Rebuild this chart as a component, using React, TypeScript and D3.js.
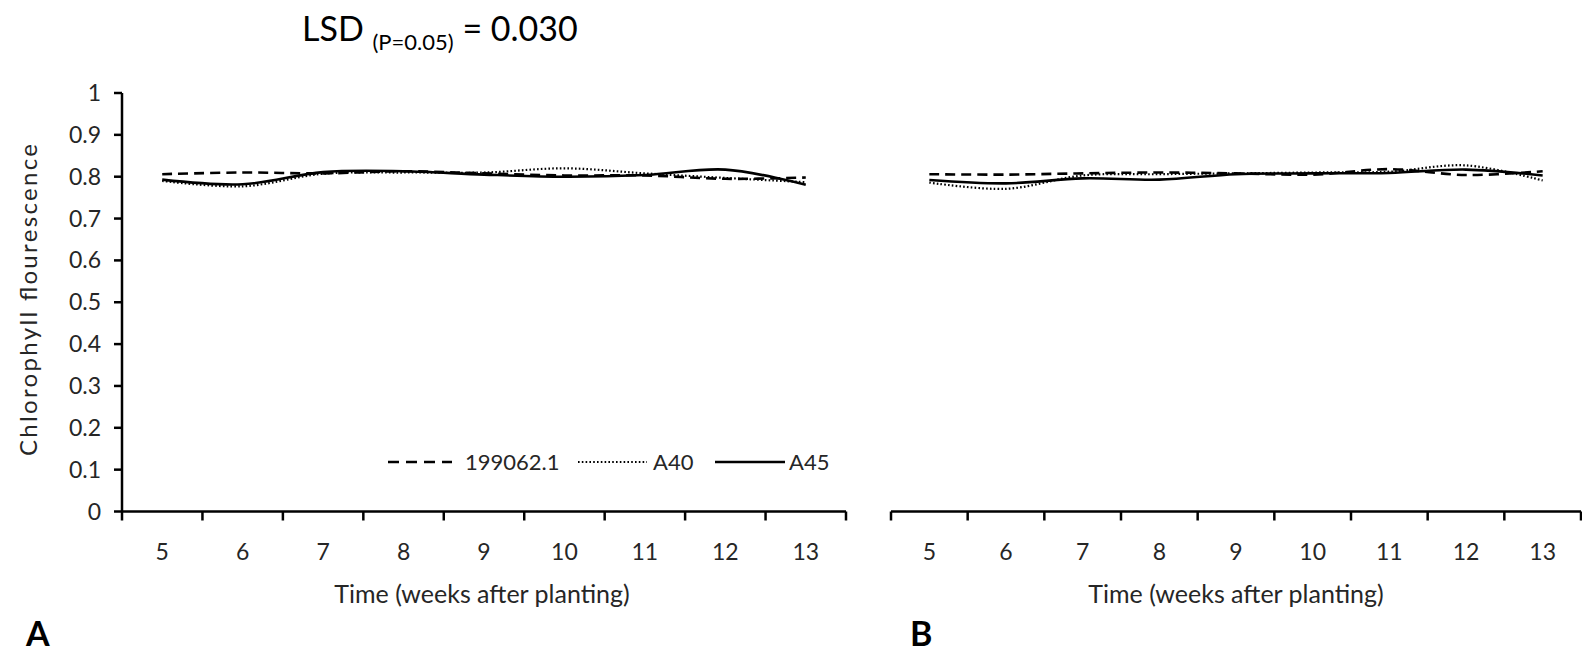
import React, { useRef, useEffect } from "react";
import * as d3 from "d3";

const weeks = ["5", "6", "7", "8", "9", "10", "11", "12", "13"];
const yTicks = [0, 0.1, 0.2, 0.3, 0.4, 0.5, 0.6, 0.7, 0.8, 0.9, 1];

// panel A
const a199062 = [0.806, 0.81, 0.808, 0.813, 0.808, 0.803, 0.803, 0.795, 0.798];
const aA40 = [0.79, 0.777, 0.807, 0.81, 0.81, 0.82, 0.808, 0.797, 0.787];
const aA45 = [0.793, 0.782, 0.811, 0.813, 0.805, 0.8, 0.804, 0.817, 0.781];

// panel B
const b199062 = [0.806, 0.805, 0.808, 0.81, 0.808, 0.805, 0.818, 0.804, 0.813];
const bA40 = [0.786, 0.771, 0.803, 0.806, 0.808, 0.81, 0.812, 0.827, 0.791];
const bA45 = [0.792, 0.784, 0.796, 0.793, 0.806, 0.808, 0.809, 0.817, 0.803];

const seriesNames = ["199062.1", "A40", "A45"];
const dashes = ["10 6", "1.6 2.2", null];
const widths = [2.6, 2.2, 2.6];

const FONT = "Lato, 'Open Sans', sans-serif";
const TXT = "#262626";

export default function App() {
  const ref = useRef<SVGSVGElement>(null);

  useEffect(() => {
    const svg = d3.select(ref.current);
    svg.selectAll("*").remove();

    const y = d3.scaleLinear().domain([0, 1]).range([511.5, 93]);

    const panels = [
      { x0: 122, x1: 846, data: [a199062, aA40, aA45], yAxis: true, letter: "A", lx: 26 },
      { x0: 891, x1: 1581, data: [b199062, bA40, bA45], yAxis: false, letter: "B", lx: 910 }
    ];

    panels.forEach(p => {
      const x = d3.scaleBand().domain(weeks).range([p.x0, p.x1]);
      const g = svg.append("g");

      // lines
      p.data.forEach((vals, i) => {
        const line = d3
          .line<number>()
          .x((d, j) => (x(weeks[j]) as number) + x.bandwidth() / 2)
          .y(d => y(d))
          .curve(d3.curveCatmullRom.alpha(0.5));
        g.append("path")
          .attr("d", line(vals))
          .attr("fill", "none")
          .attr("stroke", "#000")
          .attr("stroke-width", widths[i])
          .attr("stroke-dasharray", dashes[i]);
      });

      // x axis
      g.append("line")
        .attr("x1", p.x0)
        .attr("x2", p.x1)
        .attr("y1", y(0))
        .attr("y2", y(0))
        .attr("stroke", "#000")
        .attr("stroke-width", 2.5);
      const bounds = weeks.map(w => x(w) as number).concat([p.x1]);
      g.selectAll(".xt")
        .data(bounds)
        .enter()
        .append("line")
        .attr("x1", d => d)
        .attr("x2", d => d)
        .attr("y1", y(0))
        .attr("y2", y(0) + 9)
        .attr("stroke", "#000")
        .attr("stroke-width", 2.5);
      g.selectAll(".xl")
        .data(weeks)
        .enter()
        .append("text")
        .attr("x", d => (x(d) as number) + x.bandwidth() / 2)
        .attr("y", 560)
        .attr("text-anchor", "middle")
        .attr("font-family", FONT)
        .attr("font-size", 23)
        .attr("fill", TXT)
        .text(d => d);

      g.append("text")
        .attr("x", (p.x0 + p.x1) / 2 - (p.yAxis ? 2 : 0))
        .attr("y", 603)
        .attr("text-anchor", "middle")
        .attr("font-family", FONT)
        .attr("font-size", 25)
        .attr("fill", TXT)
        .text("Time (weeks after planting)");

      g.append("text")
        .attr("x", p.lx)
        .attr("y", 646)
        .attr("font-family", FONT)
        .attr("font-weight", "bold")
        .attr("font-size", 34)
        .attr("fill", "#000")
        .text(p.letter);

      if (p.yAxis) {
        g.append("line")
          .attr("x1", p.x0)
          .attr("x2", p.x0)
          .attr("y1", y(1))
          .attr("y2", y(0))
          .attr("stroke", "#000")
          .attr("stroke-width", 2.5);
        g.selectAll(".yt")
          .data(yTicks)
          .enter()
          .append("line")
          .attr("x1", p.x0 - 8)
          .attr("x2", p.x0)
          .attr("y1", d => y(d))
          .attr("y2", d => y(d))
          .attr("stroke", "#000")
          .attr("stroke-width", 2.5);
        g.selectAll(".yl")
          .data(yTicks)
          .enter()
          .append("text")
          .attr("x", 101)
          .attr("y", d => y(d))
          .attr("dy", "0.35em")
          .attr("text-anchor", "end")
          .attr("font-family", FONT)
          .attr("font-size", 23)
          .attr("fill", TXT)
          .text(d => String(d));
        g.append("text")
          .attr("transform", `translate(37, 300) rotate(-90)`)
          .attr("text-anchor", "middle")
          .attr("font-family", FONT)
          .attr("font-size", 24)
          .attr("textLength", 312)
          .attr("lengthAdjust", "spacing")
          .attr("fill", TXT)
          .text("Chlorophyll flourescence");

        // legend
        const legendX = [[388, 452, 465], [578, 647, 653], [715, 785, 789]];
        const ly = 462;
        seriesNames.forEach((name, i) => {
          g.append("line")
            .attr("x1", legendX[i][0])
            .attr("x2", legendX[i][1])
            .attr("y1", ly)
            .attr("y2", ly)
            .attr("stroke", "#000")
            .attr("stroke-width", widths[i])
            .attr("stroke-dasharray", i === 0 ? "11 7" : dashes[i]);
          g.append("text")
            .attr("x", legendX[i][2])
            .attr("y", ly)
            .attr("dy", "0.35em")
            .attr("font-family", FONT)
            .attr("font-size", 22)
            .attr("fill", TXT)
            .text(name);
        });
      }
    });

    // LSD title
    const t = svg
      .append("text")
      .attr("x", 302)
      .attr("y", 41)
      .attr("font-family", FONT)
      .attr("font-size", 34)
      .attr("fill", "#000");
    t.append("tspan").text("LSD ");
    t.append("tspan").attr("font-size", 22).attr("dy", 9).text("(P=0.05)");
    t.append("tspan").attr("dy", -9).text(" = 0.030");
  }, []);

  return (
    <svg
      ref={ref}
      width={1582}
      height={652}
      style={{ position: "absolute", left: 0, top: 0, background: "#fff" }}
    />
  );
}
